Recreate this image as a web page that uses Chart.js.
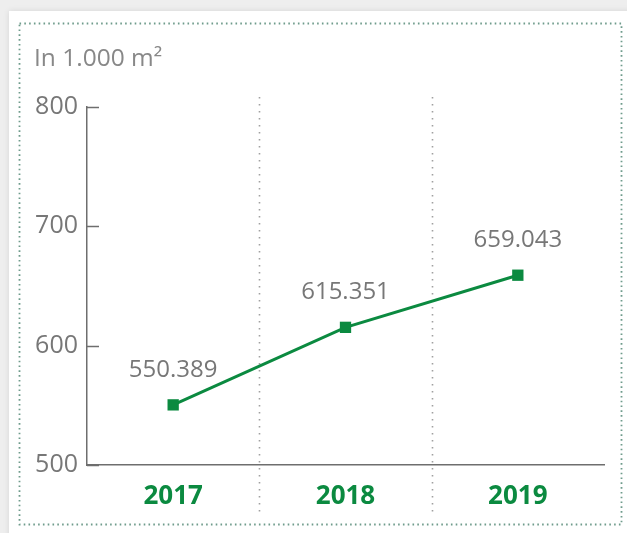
<!DOCTYPE html>
<html>
<head>
<meta charset="utf-8">
<script src="https://cdn.jsdelivr.net/npm/chart.js@4"></script>
<style>
  html, body { margin: 0; padding: 0; background: #fff; }
  #wrap { width: 627px; height: 533px; }
</style>
</head>
<body>
<div id="wrap"><canvas id="areaChart" width="627" height="533"></canvas></div>
<script>
// Fläche in 1.000 m²
const years = ["2017", "2018", "2019"];
const area = [550.389, 615.351, 659.043];
const yTicks = [500, 600, 700, 800];
const unitLabel = "In 1.000 m\u00b2";

const green = "#0b8a40";
const grey = "#777777";
const fontFamily = "'Open Sans', sans-serif";

// Hintergrund, gepunkteter Rahmen, Einheit
const frame = {
  id: "frame",
  beforeDraw(chart) {
    const c = chart.ctx;
    c.save();
    c.fillStyle = "#eeeeee";
    c.fillRect(0, 0, chart.width, chart.height);
    c.shadowColor = "rgba(0,0,0,0.10)";
    c.shadowBlur = 6;
    c.fillStyle = "#fff";
    c.fillRect(9, 11, chart.width, chart.height);
    c.shadowBlur = 0;

    c.strokeStyle = "#6f9c8c";
    c.lineWidth = 1.8;
    c.setLineDash([1.6, 3.2]);
    c.strokeRect(19.5, 23.5, 602, 501);
    c.setLineDash([]);

    c.fillStyle = "#888888";
    c.font = "24.5px " + fontFamily;
    c.textBaseline = "alphabetic";
    c.fillText(unitLabel, 34, 66);
    c.restore();
  },
  beforeDatasetsDraw(chart) {
    // Trennlinien zwischen den Jahren
    const c = chart.ctx, x = chart.scales.x;
    c.save();
    c.strokeStyle = "#a0a0a0";
    c.lineWidth = 1.6;
    c.setLineDash([1.6, 5.4]);
    for (let i = 0; i < years.length - 1; i++) {
      const px = Math.round((x.getPixelForValue(i) + x.getPixelForValue(i + 1)) / 2) + 0.5;
      c.beginPath();
      c.moveTo(px, 97);
      c.lineTo(px, 512);
      c.stroke();
    }
    c.setLineDash([]);

    // kurze Teilstriche nach innen
    const y = chart.scales.y;
    c.strokeStyle = "#6e6e6e";
    c.lineWidth = 1.5;
    y.ticks.forEach(t => {
      const py = Math.round(y.getPixelForValue(t.value)) + 0.5;
      c.beginPath();
      c.moveTo(y.right, py);
      c.lineTo(y.right + 12, py);
      c.stroke();
    });
    c.restore();
  },
  afterDatasetsDraw(chart) {
    const c = chart.ctx;
    const meta = chart.getDatasetMeta(0);
    c.save();
    c.fillStyle = grey;
    c.font = "24px " + fontFamily;
    c.textAlign = "center";
    c.textBaseline = "alphabetic";
    meta.data.forEach((pt, i) => {
      c.fillText(area[i].toFixed(3), pt.x, pt.y - 28);
    });
    c.restore();
  }
};

new Chart(document.getElementById("areaChart"), {
  type: "line",
  data: {
    labels: years,
    datasets: [{
      data: area,
      borderColor: green,
      backgroundColor: green,
      borderWidth: 3,
      pointStyle: "rect",
      pointRadius: 8,
      pointBackgroundColor: green,
      pointBorderWidth: 0,
      tension: 0,
      fill: false
    }]
  },
  options: {
    responsive: false,
    animation: false,
    layout: { padding: { left: 0, right: 23, top: 107, bottom: 0 } },
    plugins: {
      legend: { display: false },
      tooltip: { enabled: false }
    },
    scales: {
      x: {
        offset: true,
        grid: { display: false, drawTicks: false },
        border: { display: true, color: "#6e6e6e", width: 1.5 },
        ticks: {
          color: green,
          font: { family: fontFamily, size: 26, weight: "bold" },
          padding: 16
        },
        afterFit(scale) { scale.height = 68; }
      },
      y: {
        min: yTicks[0],
        max: yTicks[yTicks.length - 1],
        grid: { display: false, drawTicks: false },
        border: { display: true, color: "#6e6e6e", width: 1.5 },
        afterBuildTicks(scale) { scale.ticks = yTicks.map(v => ({ value: v })); },
        ticks: {
          color: grey,
          font: { family: fontFamily, size: 25 },
          padding: 9
        },
        afterFit(scale) { scale.width = 87; }
      }
    }
  },
  plugins: [frame]
});
</script>
</body>
</html>
